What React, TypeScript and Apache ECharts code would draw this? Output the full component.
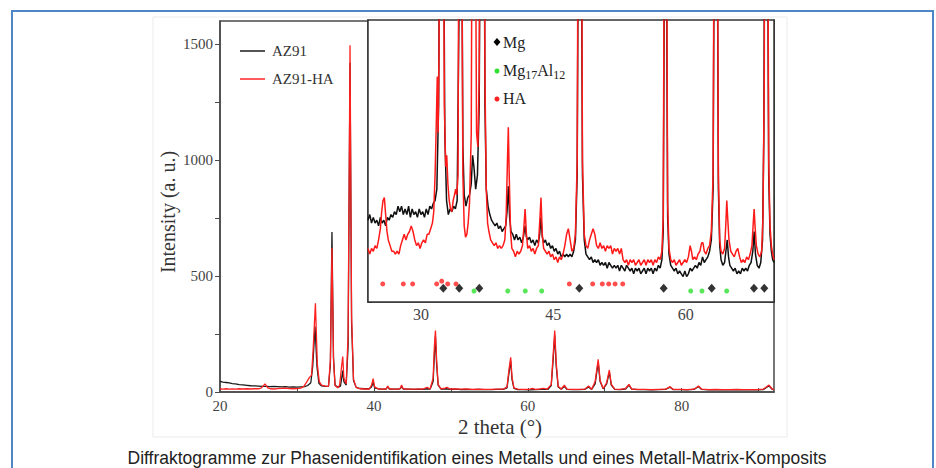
import React, { useEffect, useRef } from 'react';
import * as echarts from 'echarts';

// ---- Main pattern (2θ in °, intensity in a.u.) ----
const MAIN_AZ91: [number, number][] = [
  [20,46],[20.4,43],[20.8,41],[21.2,39],[21.6,36],[22,35],[22.5,32],[23,31],[23.5,29],[24,27],[24.5,26],[25,25],[25.5,24],[26,24],[26.5,23],[27,24],[27.5,23],[28,22],[28.5,23],[29,21],[29.5,22],[30,21],[30.5,22],[31,23],[31.4,28],[31.8,40],[32.05,110],[32.35,282],[32.6,110],[32.85,38],[33.2,26],[33.7,24],[34.1,25],[34.35,120],[34.55,690],[34.75,150],[34.95,30],[35.3,20],[35.65,25],[35.8,55],[35.95,92],[36.1,45],[36.4,30],[36.65,200],[36.9,1420],[37.1,300],[37.35,50],[37.7,20],[38.2,15],[38.8,14],[39.4,14],[39.7,22],[39.9,42],[40.1,18],[40.6,13],[41.2,12],[41.6,13],[41.8,22],[42,13],[42.6,12],[43.2,12],[43.45,15],[43.6,24],[43.8,13],[44.5,12],[45.2,11],[45.8,12],[46.4,11],[46.9,14],[47.3,12],[47.7,45],[47.85,150],[48.0,240],[48.15,120],[48.35,30],[48.7,13],[49.4,14],[49.9,11],[50.6,12],[51.3,10],[52,11],[52.8,10],[53.6,11],[54.4,10],[55.2,10],[56,11],[56.8,11],[57.3,18],[57.55,80],[57.78,135],[57.95,55],[58.2,16],[58.7,10],[59.4,10],[60.2,9],[61,10],[61.8,11],[62.6,11],[63.05,28],[63.3,140],[63.5,245],[63.7,110],[63.95,22],[64.35,12],[64.75,24],[65.1,11],[65.8,10],[66.6,10],[67.4,11],[67.9,22],[68.3,11],[68.75,35],[69.15,128],[69.4,45],[69.8,14],[70.25,35],[70.6,86],[70.85,30],[71.3,11],[72,10],[72.7,13],[73.15,30],[73.5,12],[74.3,10],[75.2,10],[76.1,9],[77,10],[77.9,11],[78.5,21],[78.9,10],[79.8,10],[80.7,9],[81.6,11],[82.2,24],[82.6,11],[83.5,9],[84.4,10],[85.3,9],[86.2,9],[87.1,10],[88,9],[88.9,9],[89.8,9],[90.6,10],[91.35,27],[91.75,12],[92,9]
];
const MAIN_AZ91_HA: [number, number][] = [
  [20,13],[20.4,12],[20.8,14],[21.2,12],[21.6,13],[22,12],[22.5,14],[23,13],[23.5,14],[24,13],[24.5,14],[25,14],[25.4,18],[25.85,35],[26.2,18],[26.6,14],[27,13],[27.5,15],[28,16],[28.5,17],[29,15],[29.5,14],[30,15],[30.5,17],[30.9,24],[31.3,45],[31.6,62],[31.9,73],[32.1,180],[32.4,383],[32.65,120],[32.9,45],[33.2,30],[33.7,25],[34.1,24],[34.35,140],[34.55,621],[34.75,140],[34.95,28],[35.3,18],[35.55,30],[35.8,110],[35.95,153],[36.1,60],[36.4,35],[36.65,250],[36.9,1495],[37.1,330],[37.35,55],[37.7,20],[38.2,14],[38.8,13],[39.4,13],[39.7,30],[39.9,58],[40.1,22],[40.6,13],[41.2,12],[41.6,14],[41.8,26],[42,14],[42.6,12],[43.2,12],[43.45,17],[43.6,30],[43.8,14],[44.5,12],[45.2,12],[45.8,12],[46.4,13],[46.9,20],[47.3,13],[47.7,60],[47.85,190],[48.0,265],[48.15,140],[48.35,33],[48.7,14],[49.1,15],[49.5,20],[49.9,13],[50.6,13],[51.3,12],[52,13],[52.8,11],[53.6,12],[54.4,11],[55.2,11],[56,12],[56.8,12],[57.3,22],[57.55,95],[57.78,150],[57.95,65],[58.2,18],[58.7,12],[59.4,11],[60.2,11],[60.6,16],[61,11],[61.6,13],[62,16],[62.5,12],[63.05,32],[63.3,160],[63.5,265],[63.7,125],[63.95,25],[64.35,13],[64.75,30],[65.1,12],[65.8,11],[66.6,11],[67.4,12],[67.9,26],[68.3,12],[68.75,45],[69.15,141],[69.4,50],[69.8,15],[70.25,40],[70.6,95],[70.85,34],[71.3,12],[72,11],[72.7,15],[73.15,33],[73.5,13],[74.3,11],[75.2,11],[76.1,10],[77,11],[77.9,12],[78.5,23],[78.9,11],[79.8,11],[80.7,10],[81.6,12],[82.2,26],[82.6,12],[83.5,10],[84.4,11],[85.3,10],[86.2,10],[87.1,11],[88,10],[88.9,10],[89.8,10],[90.6,12],[91.35,30],[91.75,13],[92,10]
];

// ---- Inset (zoomed background, own intensity scale) ----
const INSET_AZ91: [number, number][] = [
  [24.0,29],[24.2,31],[24.4,28],[24.6,30],[24.8,28],[25.0,29],[25.2,27],[25.4,30],[25.6,28],[25.8,29],[26.0,27],[26.2,30],[26.4,29],[26.6,31],[26.8,30],[27.0,32],[27.2,31],[27.4,34],[27.6,32],[27.8,34],[28.0,31],[28.2,33],[28.4,31],[28.6,34],[28.8,30],[29.0,33],[29.2,31],[29.4,32],[29.6,30],[29.8,33],[30.0,31],[30.2,32],[30.4,30],[30.6,33],[30.8,31],[31.0,34],[31.2,33],[31.4,35],[31.6,36],[31.8,40],[32.0,70],[32.15,160],[32.35,400],[32.55,150],[32.7,60],[32.9,36],[33.1,31],[33.3,33],[33.5,32],[33.7,34],[33.9,33],[34.1,36],[34.3,100],[34.45,400],[34.6,150],[34.75,55],[34.9,38],[35.1,34],[35.3,37],[35.5,38],[35.7,42],[35.85,52],[36.0,48],[36.2,40],[36.4,45],[36.6,70],[36.8,200],[36.95,500],[37.1,200],[37.25,70],[37.4,40],[37.6,34],[37.8,31],[38.0,29],[38.2,28],[38.4,27],[38.6,28],[38.8,26],[39.0,27],[39.2,25],[39.4,26],[39.6,27],[39.75,32],[39.9,41],[40.05,30],[40.2,25],[40.4,24],[40.6,22],[40.8,24],[41.0,22],[41.2,23],[41.4,21],[41.6,23],[41.8,27],[41.95,23],[42.1,22],[42.3,23],[42.5,21],[42.7,22],[42.9,20],[43.1,22],[43.3,21],[43.45,24],[43.6,30],[43.75,23],[43.9,21],[44.1,22],[44.3,20],[44.5,21],[44.7,19],[44.9,20],[45.1,18],[45.3,19],[45.5,17],[45.7,18],[45.9,16],[46.1,17],[46.3,16],[46.5,17],[46.7,16],[46.9,17],[47.1,16],[47.3,18],[47.5,22],[47.7,45],[47.85,150],[48.0,500],[48.15,150],[48.3,45],[48.5,22],[48.7,17],[48.9,16],[49.1,15],[49.3,16],[49.5,14],[49.7,15],[49.9,14],[50.1,15],[50.3,13],[50.5,14],[50.7,13],[50.9,14],[51.1,12],[51.3,14],[51.5,13],[51.7,12],[51.9,13],[52.1,12],[52.3,13],[52.5,11],[52.7,13],[52.9,12],[53.1,11],[53.3,13],[53.5,12],[53.7,11],[53.9,12],[54.1,10],[54.3,12],[54.5,11],[54.7,12],[54.9,10],[55.1,11],[55.3,12],[55.5,10],[55.7,12],[55.9,11],[56.1,12],[56.3,10],[56.5,12],[56.7,11],[56.9,13],[57.1,12],[57.3,15],[57.45,25],[57.55,100],[57.7,400],[57.85,100],[57.95,30],[58.1,17],[58.3,13],[58.5,12],[58.7,11],[58.9,12],[59.1,10],[59.3,11],[59.5,10],[59.7,9],[59.9,11],[60.1,9],[60.3,10],[60.5,12],[60.7,11],[60.9,12],[61.1,13],[61.3,12],[61.5,14],[61.7,13],[61.9,16],[62.1,14],[62.3,15],[62.5,16],[62.7,18],[62.9,22],[63.1,40],[63.25,150],[63.4,450],[63.55,150],[63.7,40],[63.85,20],[64.0,15],[64.2,13],[64.4,14],[64.55,18],[64.7,22],[64.85,16],[65.0,13],[65.2,12],[65.4,11],[65.6,12],[65.8,10],[66.0,11],[66.2,10],[66.4,12],[66.6,11],[66.8,12],[67.0,11],[67.2,13],[67.4,14],[67.6,18],[67.75,25],[67.9,17],[68.1,13],[68.3,12],[68.5,14],[68.7,22],[68.85,60],[69.0,200],[69.1,400],[69.25,150],[69.4,45],[69.55,24],[69.7,18],[69.85,15],[70.0,14]
];
const INSET_AZ91_HA: [number, number][] = [
  [24.0,19],[24.2,17],[24.4,19],[24.6,18],[24.8,20],[25.0,19],[25.2,22],[25.4,26],[25.55,32],[25.7,36],[25.85,37],[26.0,31],[26.15,25],[26.3,22],[26.5,20],[26.7,18],[26.9,18],[27.1,17],[27.3,18],[27.5,17],[27.7,20],[27.9,22],[28.1,24],[28.3,22],[28.5,24],[28.7,25],[28.9,27],[29.1,25],[29.3,22],[29.5,20],[29.7,21],[29.9,19],[30.1,21],[30.3,22],[30.5,21],[30.7,24],[30.9,24],[31.1,26],[31.3,28],[31.45,32],[31.6,45],[31.75,65],[31.85,80],[31.95,60],[32.05,90],[32.2,250],[32.35,500],[32.5,200],[32.65,70],[32.8,48],[32.92,52],[33.05,42],[33.2,36],[33.35,33],[33.5,32],[33.65,36],[33.8,38],[33.93,40],[34.05,38],[34.2,45],[34.35,200],[34.45,400],[34.6,150],[34.75,45],[34.9,27],[35.05,23],[35.2,24],[35.35,28],[35.5,35],[35.7,60],[35.85,200],[36.0,400],[36.15,150],[36.3,60],[36.45,55],[36.6,80],[36.8,250],[36.95,600],[37.1,250],[37.25,80],[37.4,40],[37.55,28],[37.7,25],[37.9,22],[38.1,21],[38.3,20],[38.5,21],[38.7,19],[38.9,20],[39.1,19],[39.3,20],[39.5,22],[39.65,30],[39.8,50],[39.9,62],[40.0,45],[40.15,25],[40.3,19],[40.5,18],[40.7,16],[40.9,18],[41.1,17],[41.3,18],[41.5,20],[41.65,26],[41.8,33],[41.95,24],[42.1,19],[42.3,20],[42.5,18],[42.7,19],[42.9,17],[43.1,19],[43.3,20],[43.45,28],[43.6,37],[43.75,24],[43.9,19],[44.1,18],[44.3,17],[44.5,18],[44.7,16],[44.9,17],[45.1,15],[45.3,16],[45.5,14],[45.7,16],[45.9,15],[46.1,17],[46.3,20],[46.5,24],[46.7,26],[46.9,22],[47.1,18],[47.3,19],[47.5,24],[47.7,50],[47.85,180],[48.0,550],[48.15,180],[48.3,50],[48.5,24],[48.7,20],[48.9,19],[49.1,22],[49.3,24],[49.5,26],[49.7,24],[49.9,20],[50.1,19],[50.3,21],[50.5,19],[50.7,20],[50.9,18],[51.1,20],[51.3,19],[51.5,20],[51.7,17],[51.9,19],[52.1,18],[52.3,19],[52.5,17],[52.7,19],[52.9,15],[53.1,14],[53.3,15],[53.5,13],[53.7,15],[53.9,14],[54.1,15],[54.3,13],[54.5,14],[54.7,15],[54.9,13],[55.1,14],[55.3,15],[55.5,13],[55.7,15],[55.9,14],[56.1,15],[56.3,13],[56.5,15],[56.7,14],[56.9,16],[57.1,15],[57.3,18],[57.45,30],[57.55,120],[57.7,450],[57.85,120],[57.95,35],[58.1,19],[58.3,15],[58.5,14],[58.7,15],[58.9,13],[59.1,14],[59.3,15],[59.5,13],[59.7,14],[59.9,15],[60.1,14],[60.3,16],[60.5,20],[60.65,18],[60.8,15],[61.0,16],[61.2,15],[61.4,17],[61.6,18],[61.8,21],[61.95,21],[62.1,18],[62.3,17],[62.5,19],[62.7,20],[62.9,25],[63.1,45],[63.25,170],[63.4,500],[63.55,170],[63.7,45],[63.85,22],[64.0,18],[64.2,17],[64.4,19],[64.55,28],[64.65,36],[64.75,30],[64.9,22],[65.1,18],[65.3,17],[65.5,16],[65.7,18],[65.9,19],[66.1,16],[66.3,14],[66.5,15],[66.7,14],[66.9,16],[67.1,15],[67.3,17],[67.5,20],[67.65,28],[67.75,33],[67.85,27],[68.0,20],[68.2,17],[68.4,16],[68.6,18],[68.75,30],[68.9,80],[69.0,250],[69.1,500],[69.25,180],[69.4,50],[69.55,27],[69.7,20],[69.85,17],[70.0,15]
];

// ---- Reflex positions (2θ) for the phase markers in the inset ----
const MG_REFLEXES = [32.53, 34.34, 36.61, 47.94, 57.5, 62.94, 67.73, 68.9];
const MG17AL12_REFLEXES = [36.01, 39.83, 41.82, 43.68, 60.56, 61.84, 64.64];
const HA_REFLEXES = [25.67, 28.0, 29.06, 31.78, 33.03, 33.97, 46.81, 49.46, 50.55, 51.27, 51.99, 52.86];
const HA_REFLEXES_RAISED = [32.35];
const MG_ROW = 4.9;
const MG17AL12_ROW = 3.9;
const HA_ROW = 6.4;
const HA_ROW_RAISED = 7.4;

// ---- Axis ticks / labels ----
const MAIN_X_LABELS = [20, 40, 60, 80];
const MAIN_X_TICKS = [20, 30, 40, 50, 60, 70, 80, 90];
const MAIN_Y_LABELS = [0, 500, 1000, 1500];
const MAIN_Y_TICKS = [0, 250, 500, 750, 1000, 1250, 1500];
const INSET_X_LABELS = [30, 45, 60];
const INSET_X_TICKS = [30, 37.5, 45, 52.5, 60, 67.5];

const SERIF = '"Liberation Serif", "Times New Roman", serif';
const SANS = '"Liberation Sans", Arial, sans-serif';
const CAPTION = 'Diffraktogramme zur Phasenidentifikation eines Metalls und eines Metall-Matrix-Komposits';

export default function App() {
  const ref = useRef<HTMLDivElement>(null);
  useEffect(() => {
    if (!ref.current) return;
    const chart = echarts.init(ref.current, null, { renderer: 'svg' });
    const axisColor = '#4a4a4a';
    const option: any = {
      animation: false,
      backgroundColor: '#ffffff',
      grid: [
        { left: 220, top: 21, width: 554, height: 371, show: true, borderColor: axisColor, borderWidth: 1.5, backgroundColor: 'transparent', z: 0 },
        { left: 368, top: 20, width: 406, height: 282, show: true, borderColor: '#333', borderWidth: 1.5, backgroundColor: '#ffffff', z: 1 },
      ],
      xAxis: [
        {
          gridIndex: 0, type: 'value', min: 20, max: 92, interval: 10,
          axisLine: { show: true, onZero: false, lineStyle: { color: axisColor, width: 1.5 } },
          axisTick: { show: true, inside: true, length: 4, customValues: MAIN_X_TICKS, lineStyle: { color: axisColor } },
          axisLabel: { customValues: MAIN_X_LABELS, fontFamily: SERIF, fontSize: 15, color: '#444', margin: 6,
            formatter: (v: number) => (MAIN_X_LABELS.includes(v) ? String(v) : '') },
          splitLine: { show: false },
        },
        {
          gridIndex: 1, type: 'value', min: 24, max: 70,
          axisLine: { show: true, onZero: false, lineStyle: { color: '#333', width: 1.5 } },
          axisTick: { show: true, inside: true, length: 4, customValues: INSET_X_TICKS, lineStyle: { color: '#333' } },
          axisLabel: { customValues: INSET_X_LABELS, fontFamily: SERIF, fontSize: 16, color: '#444', margin: 4 },
          splitLine: { show: false },
        },
      ],
      yAxis: [
        {
          gridIndex: 0, type: 'value', min: 0, max: 1600, interval: 250,
          axisLine: { show: true, onZero: false, lineStyle: { color: axisColor, width: 1.5 } },
          axisTick: { show: true, inside: false, length: 5, customValues: MAIN_Y_TICKS, lineStyle: { color: axisColor } },
          axisLabel: { customValues: MAIN_Y_LABELS, fontFamily: SERIF, fontSize: 15, color: '#444', margin: 7,
            formatter: (v: number) => (MAIN_Y_LABELS.includes(v) ? String(v) : '') },
          splitLine: { show: false },
        },
        {
          gridIndex: 1, type: 'value', min: 0, max: 100, interval: 10,
          axisLine: { show: true, onZero: false, lineStyle: { color: '#333', width: 1.5 } },
          axisTick: { show: true, inside: true, length: 4, lineStyle: { color: '#333' } },
          axisLabel: { show: false },
          splitLine: { show: false },
        },
        {
          gridIndex: 1, type: 'value', min: 0, max: 100, interval: 10, position: 'right',
          axisLine: { show: true, onZero: false, lineStyle: { color: '#333', width: 1.5 } },
          axisTick: { show: true, inside: true, length: 4, lineStyle: { color: '#333' } },
          axisLabel: { show: false },
          splitLine: { show: false },
        },
      ],
      series: [
        { name: 'AZ91', type: 'line', xAxisIndex: 0, yAxisIndex: 0, data: MAIN_AZ91, showSymbol: false, symbol: 'none',
          lineStyle: { color: '#1a1a1a', width: 1.3 }, z: 2 },
        { name: 'AZ91-HA', type: 'line', xAxisIndex: 0, yAxisIndex: 0, data: MAIN_AZ91_HA, showSymbol: false, symbol: 'none',
          lineStyle: { color: '#ff2020', width: 1.3 }, z: 3 },
        { name: 'AZ91 (inset)', type: 'line', xAxisIndex: 1, yAxisIndex: 1, data: INSET_AZ91, showSymbol: false, symbol: 'none',
          lineStyle: { color: '#111111', width: 1.5 }, z: 4 },
        { name: 'AZ91-HA (inset)', type: 'line', xAxisIndex: 1, yAxisIndex: 1, data: INSET_AZ91_HA, showSymbol: false, symbol: 'none',
          lineStyle: { color: '#ff1a1a', width: 1.5 }, z: 5 },
        { name: 'HA', type: 'scatter', xAxisIndex: 1, yAxisIndex: 1, symbol: 'circle', symbolSize: 5,
          itemStyle: { color: '#ff2020' }, z: 6,
          data: HA_REFLEXES.map((x) => [x, HA_ROW]).concat(HA_REFLEXES_RAISED.map((x) => [x, HA_ROW_RAISED])) },
        { name: 'Mg', type: 'scatter', xAxisIndex: 1, yAxisIndex: 1, symbol: 'diamond', symbolSize: [8, 9],
          itemStyle: { color: '#000000' }, z: 7, data: MG_REFLEXES.map((x) => [x, MG_ROW]) },
        { name: 'Mg17Al12', type: 'scatter', xAxisIndex: 1, yAxisIndex: 1, symbol: 'circle', symbolSize: 5,
          itemStyle: { color: '#2fe02f' }, z: 6, data: MG17AL12_REFLEXES.map((x) => [x, MG17AL12_ROW]) },
      ],
      graphic: [
        { type: 'rect', silent: true, z: -10, shape: { x: 153, y: 17, width: 634, height: 420 },
          style: { fill: 'none', stroke: '#ebebeb', lineWidth: 1 } },
        { type: 'rect', silent: true, z: 100, shape: { x: 12, y: 11, width: 921, height: 480 },
          style: { fill: 'none', stroke: '#4f86c6', lineWidth: 2 } },
        // main legend
        { type: 'line', z: 50, shape: { x1: 240, y1: 51, x2: 265, y2: 51 }, style: { stroke: '#555', lineWidth: 2 } },
        { type: 'text', z: 50, x: 272, y: 51, style: { text: 'AZ91', fontFamily: SERIF, fontSize: 15, fill: '#333', align: 'left', verticalAlign: 'middle' } },
        { type: 'line', z: 50, shape: { x1: 240, y1: 79, x2: 265, y2: 79 }, style: { stroke: '#ff5a5a', lineWidth: 2 } },
        { type: 'text', z: 50, x: 272, y: 79, style: { text: 'AZ91-HA', fontFamily: SERIF, fontSize: 15, fill: '#333', align: 'left', verticalAlign: 'middle' } },
        // inset legend
        { type: 'polygon', z: 50, shape: { points: [[497, 38], [500.5, 42], [497, 46], [493.5, 42]] }, style: { fill: '#000' } },
        { type: 'text', z: 50, x: 503, y: 42, style: { text: 'Mg', fontFamily: SERIF, fontSize: 16, fill: '#222', align: 'left', verticalAlign: 'middle' } },
        { type: 'circle', z: 50, shape: { cx: 497, cy: 71, r: 2.5 }, style: { fill: '#2fe02f' } },
        { type: 'text', z: 50, x: 503, y: 70, style: {
          text: '{n|Mg}{s|17}{n|Al}{s|12}', align: 'left', verticalAlign: 'middle',
          rich: {
            n: { fontFamily: SERIF, fontSize: 16, fill: '#222', color: '#222', lineHeight: 22, verticalAlign: 'middle' },
            s: { fontFamily: SERIF, fontSize: 12, fill: '#222', color: '#222', lineHeight: 11, verticalAlign: 'bottom' },
          } } },
        { type: 'circle', z: 50, shape: { cx: 497, cy: 99, r: 2.5 }, style: { fill: '#ff2020' } },
        { type: 'text', z: 50, x: 503, y: 98, style: { text: 'HA', fontFamily: SERIF, fontSize: 16, fill: '#222', align: 'left', verticalAlign: 'middle' } },
        // axis titles
        { type: 'text', z: 50, x: 168, y: 212, rotation: Math.PI / 2, style: { text: 'Intensity (a. u.)', fontFamily: SERIF, fontSize: 20, fill: '#333', align: 'center', verticalAlign: 'middle' } },
        { type: 'text', z: 50, x: 500, y: 427, style: { text: '2 theta (°)', fontFamily: SERIF, fontSize: 21, fill: '#333', align: 'center', verticalAlign: 'middle' } },
        // caption
        { type: 'text', z: 50, x: 477, y: 457, scaleX: 0.92, style: { text: CAPTION, fontFamily: SANS, fontSize: 19, fill: '#222', align: 'center', verticalAlign: 'middle' } },
      ],
    };
    chart.setOption(option);
    return () => chart.dispose();
  }, []);
  return <div ref={ref} style={{ position: 'absolute', left: 0, top: 0, width: 936, height: 468 }} />;
}
